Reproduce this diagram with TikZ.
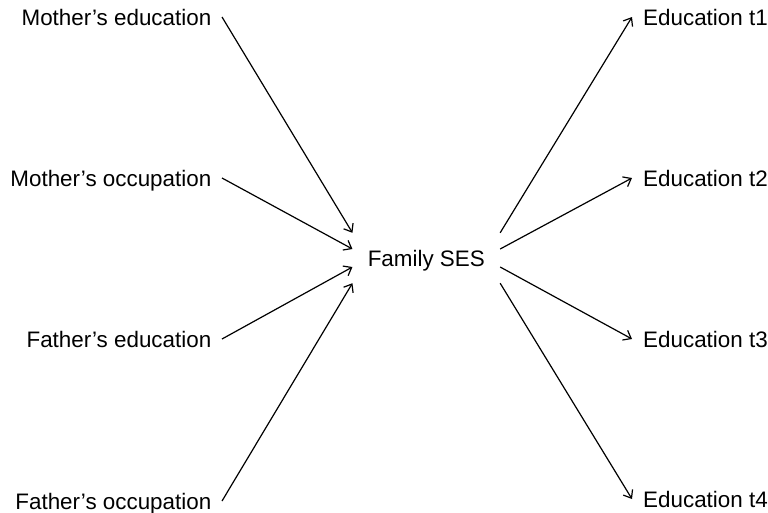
\documentclass[tikz,border=0pt]{standalone}
\usepackage{fontspec}
\setmainfont{Liberation Sans}
\usetikzlibrary{arrows.meta}
\begin{document}
\begin{tikzpicture}[x=1pt,y=-1pt,
  lab/.style={font=\fontsize{22.4}{26}\selectfont, text height=16pt, text depth=0pt, inner ysep=0pt},
  lft/.style={lab, anchor=east, inner xsep=10.5pt},
  rgt/.style={lab, anchor=west, inner xsep=11pt},
  conn/.style={line width=1.2pt, -{Straight Barb[length=7pt,width=11pt,line width=1.2pt]}}]
\useasboundingbox (0,0) rectangle (768,512);
\node[lft] (me) at (222,17) {Mother’s education};
\node[lft] (mo) at (222,178) {Mother’s occupation};
\node[lft] (fe) at (222,339) {Father’s education};
\node[lft] (fo) at (222,501) {Father’s occupation};
\node[lab, minimum width=147.3pt, minimum height=50pt, inner sep=0pt] (ses) at (426.3,258) {Family SES};
\node[rgt] (e1) at (632,17) {Education t1};
\node[rgt] (e2) at (632,178) {Education t2};
\node[rgt] (e3) at (632,339) {Education t3};
\node[rgt] (e4) at (632,499) {Education t4};
\draw[conn] (me.east) -- (ses.north west);
\draw[conn] (mo.east) -- ([yshift=9pt]ses.west);
\draw[conn] (fe.east) -- ([yshift=-9pt]ses.west);
\draw[conn] (fo.east) -- (ses.south west);
\draw[conn] (ses.north east) -- (e1.west);
\draw[conn] ([yshift=9pt]ses.east) -- (e2.west);
\draw[conn] ([yshift=-9pt]ses.east) -- (e3.west);
\draw[conn] (ses.south east) -- (e4.west);
\end{tikzpicture}
\end{document}
